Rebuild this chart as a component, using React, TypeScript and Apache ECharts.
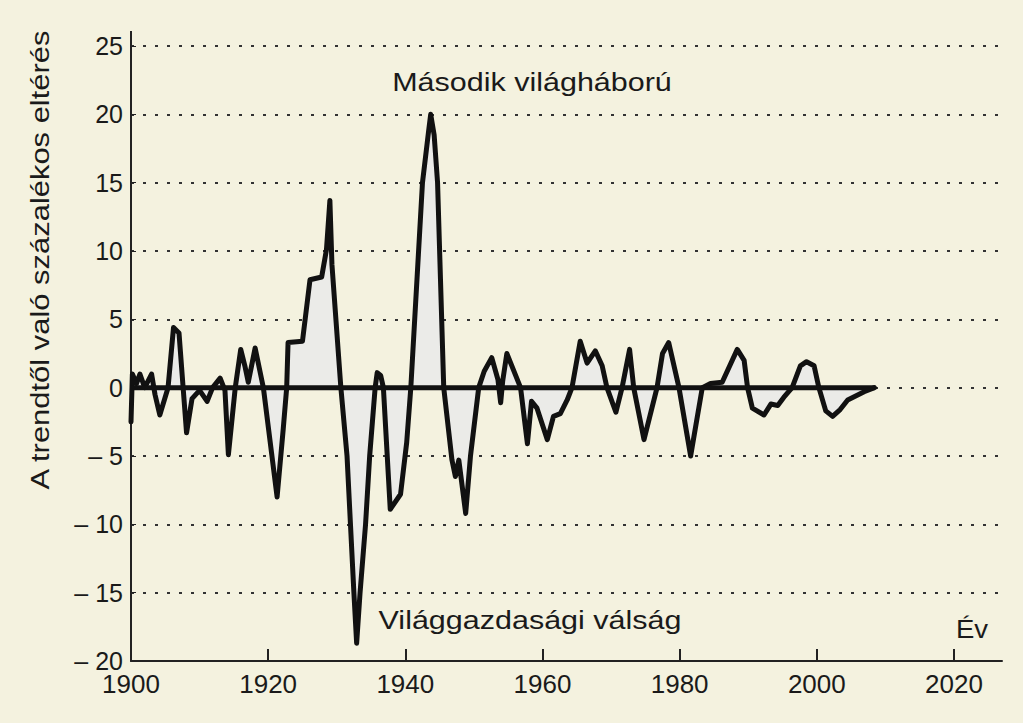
import React, { useEffect, useRef } from "react";
import * as echarts from "echarts";

const years: number[] = [
  1900.0, 1900.2, 1900.8, 1901.3, 1902.0, 1903.0, 1903.5, 1904.2, 1905.4, 1906.2,
  1907.0, 1907.6, 1908.1, 1908.9, 1910.0, 1911.1, 1911.9, 1913.0, 1913.7, 1914.2,
  1915.2, 1916.0, 1916.6, 1917.1, 1918.1, 1919.3, 1920.5, 1921.3, 1922.2, 1922.7,
  1922.9, 1925.0, 1926.1, 1927.8, 1928.5, 1929.0, 1929.3, 1930.6, 1931.5, 1932.0,
  1932.5, 1932.9, 1933.4, 1934.2, 1934.8, 1935.6, 1935.9, 1936.4, 1936.8, 1937.8,
  1939.3, 1940.2, 1940.8, 1942.5, 1943.4, 1943.7, 1944.2, 1944.7, 1945.6, 1946.8,
  1947.3, 1947.8, 1948.8, 1949.5, 1950.7, 1951.5, 1952.6, 1953.5, 1953.9, 1954.2,
  1954.8, 1956.8, 1957.8, 1958.4, 1959.2, 1960.7, 1961.6, 1962.6, 1963.6, 1964.3,
  1965.5, 1966.5, 1967.7, 1968.7, 1969.4, 1970.7, 1971.6, 1972.7, 1973.3, 1974.8,
  1976.7, 1977.5, 1978.4, 1979.9, 1981.6, 1983.3, 1984.5, 1986.2, 1988.4, 1989.4,
  1989.9, 1990.6, 1992.3, 1993.3, 1994.3, 1995.2, 1996.4, 1997.6, 1998.5, 1999.6,
  2000.3, 2001.3, 2002.3, 2003.4, 2004.5, 2006.9, 2008.4,
];

const deviation: number[] = [
  -2.5, 1.0, 0.3, 1.0, 0.0, 1.0, -0.5, -2.0, 0.0, 4.4,
  4.0, 0.0, -3.3, -0.8, -0.2, -1.0, 0.0, 0.7, -0.2, -4.9,
  0.0, 2.8, 1.6, 0.4, 2.9, 0.0, -4.8, -8.0, -3.0, 0.0,
  3.3, 3.4, 7.9, 8.1, 10.1, 13.7, 9.0, 0.0, -5.0, -10.0,
  -15.0, -18.7, -15.0, -10.0, -5.0, 0.0, 1.1, 0.9, 0.0, -8.9,
  -7.8, -4.0, 0.0, 15.0, 18.8, 20.0, 18.5, 15.0, 0.0, -5.3,
  -6.5, -5.3, -9.2, -5.0, 0.0, 1.2, 2.2, 0.6, -1.1, 0.5,
  2.5, 0.0, -4.1, -1.0, -1.5, -3.8, -2.1, -1.9, -0.9, 0.0,
  3.4, 1.8, 2.7, 1.6, 0.0, -1.8, 0.0, 2.8, 0.0, -3.8,
  0.0, 2.5, 3.3, 0.0, -5.0, 0.0, 0.3, 0.4, 2.8, 2.0,
  0.0, -1.5, -2.0, -1.2, -1.3, -0.7, 0.0, 1.6, 1.9, 1.6,
  0.0, -1.7, -2.1, -1.6, -0.9, -0.3, 0.0,
];

const xTicks: number[] = [1900, 1920, 1940, 1960, 1980, 2000, 2020];
const yTicks: number[] = [-20, -15, -10, -5, 0, 5, 10, 15, 20, 25];

const yAxisName = "A trendtől való százalékos eltérés";
const warLabel = "Második világháború";
const crisisLabel = "Világgazdasági válság";
const xAxisName = "Év";

const FONT = "'Liberation Sans', Arial, Helvetica, sans-serif";

export default function App() {
  const ref = useRef<HTMLDivElement>(null);

  useEffect(() => {
    if (!ref.current) return;
    const chart = echarts.init(ref.current, undefined, { renderer: "svg" });
    const lineData = years.map((y, i) => [y, deviation[i]]);
    const zeroData = [
      [years[0], 0],
      [years[years.length - 1], 0],
    ];
    chart.setOption({
      animation: false,
      backgroundColor: "#f4f2df",
      grid: { left: 131, right: 21, top: 46, bottom: 62, containLabel: false },
      xAxis: {
        type: "value",
        min: 1900,
        max: 2027,
        interval: 20,
        axisLine: { show: true, onZero: false, lineStyle: { color: "#222", width: 2 } },
        axisTick: {
          show: true,
          inside: true,
          length: 12,
          customValues: xTicks,
          lineStyle: { color: "#222", width: 2 },
        },
        axisLabel: {
          customValues: xTicks,
          formatter: (v: number) => (xTicks.indexOf(v) >= 0 ? String(v) : ""),
          color: "#1a1a1a",
          fontSize: 26,
          fontFamily: FONT,
          margin: 10,
        },
        splitLine: { show: false },
      },
      yAxis: {
        type: "value",
        min: -20,
        max: 25,
        interval: 5,
        axisLine: { show: true, onZero: false, lineStyle: { color: "#222", width: 2 } },
        axisTick: { show: true, inside: true, length: 5, lineStyle: { color: "#222", width: 1 } },
        axisLabel: {
          formatter: (v: number) => (yTicks.indexOf(v) < 0 ? "" : v < 0 ? "– " + Math.abs(v) : String(v)),
          color: "#1a1a1a",
          fontSize: 25,
          fontFamily: FONT,
          margin: 8,
        },
        splitLine: {
          show: true,
          lineStyle: { color: "#333", width: 2, type: [3, 9] },
        },
      },
      series: [
        {
          type: "line",
          data: lineData,
          symbol: "none",
          lineStyle: { color: "#111", width: 5, join: "round", cap: "round" },
          areaStyle: { color: "#ebebe8", opacity: 1, origin: 0 },
          z: 4,
          silent: true,
        },
        {
          type: "line",
          data: zeroData,
          symbol: "none",
          lineStyle: { color: "#111", width: 5 },
          z: 6,
          silent: true,
        },
      ],
      graphic: [
        {
          type: "line",
          shape: { x1: 131, y1: 31, x2: 131, y2: 46 },
          style: { stroke: "#222", lineWidth: 2 },
        },
        {
          type: "text",
          x: 40,
          y: 260,
          rotation: Math.PI / 2,
          scaleX: 1.19,
          style: {
            text: yAxisName,
            font: `26px ${FONT}`,
            fill: "#1a1a1a",
            textAlign: "center",
            textVerticalAlign: "middle",
          },
        },
        {
          type: "text",
          x: 532,
          y: 82,
          scaleX: 1.22,
          style: {
            text: warLabel,
            font: `25px ${FONT}`,
            fill: "#1a1a1a",
            textAlign: "center",
            textVerticalAlign: "middle",
          },
        },
        {
          type: "text",
          x: 530,
          y: 620,
          scaleX: 1.22,
          style: {
            text: crisisLabel,
            font: `25px ${FONT}`,
            fill: "#1a1a1a",
            textAlign: "center",
            textVerticalAlign: "middle",
          },
        },
        {
          type: "text",
          x: 972,
          y: 629,
          scaleX: 1.1,
          style: {
            text: xAxisName,
            font: `25px ${FONT}`,
            fill: "#1a1a1a",
            textAlign: "center",
            textVerticalAlign: "middle",
          },
        },
      ],
    });
    return () => chart.dispose();
  }, []);

  return <div ref={ref} style={{ width: 1023, height: 723, position: "absolute", left: 0, top: 0 }} />;
}
